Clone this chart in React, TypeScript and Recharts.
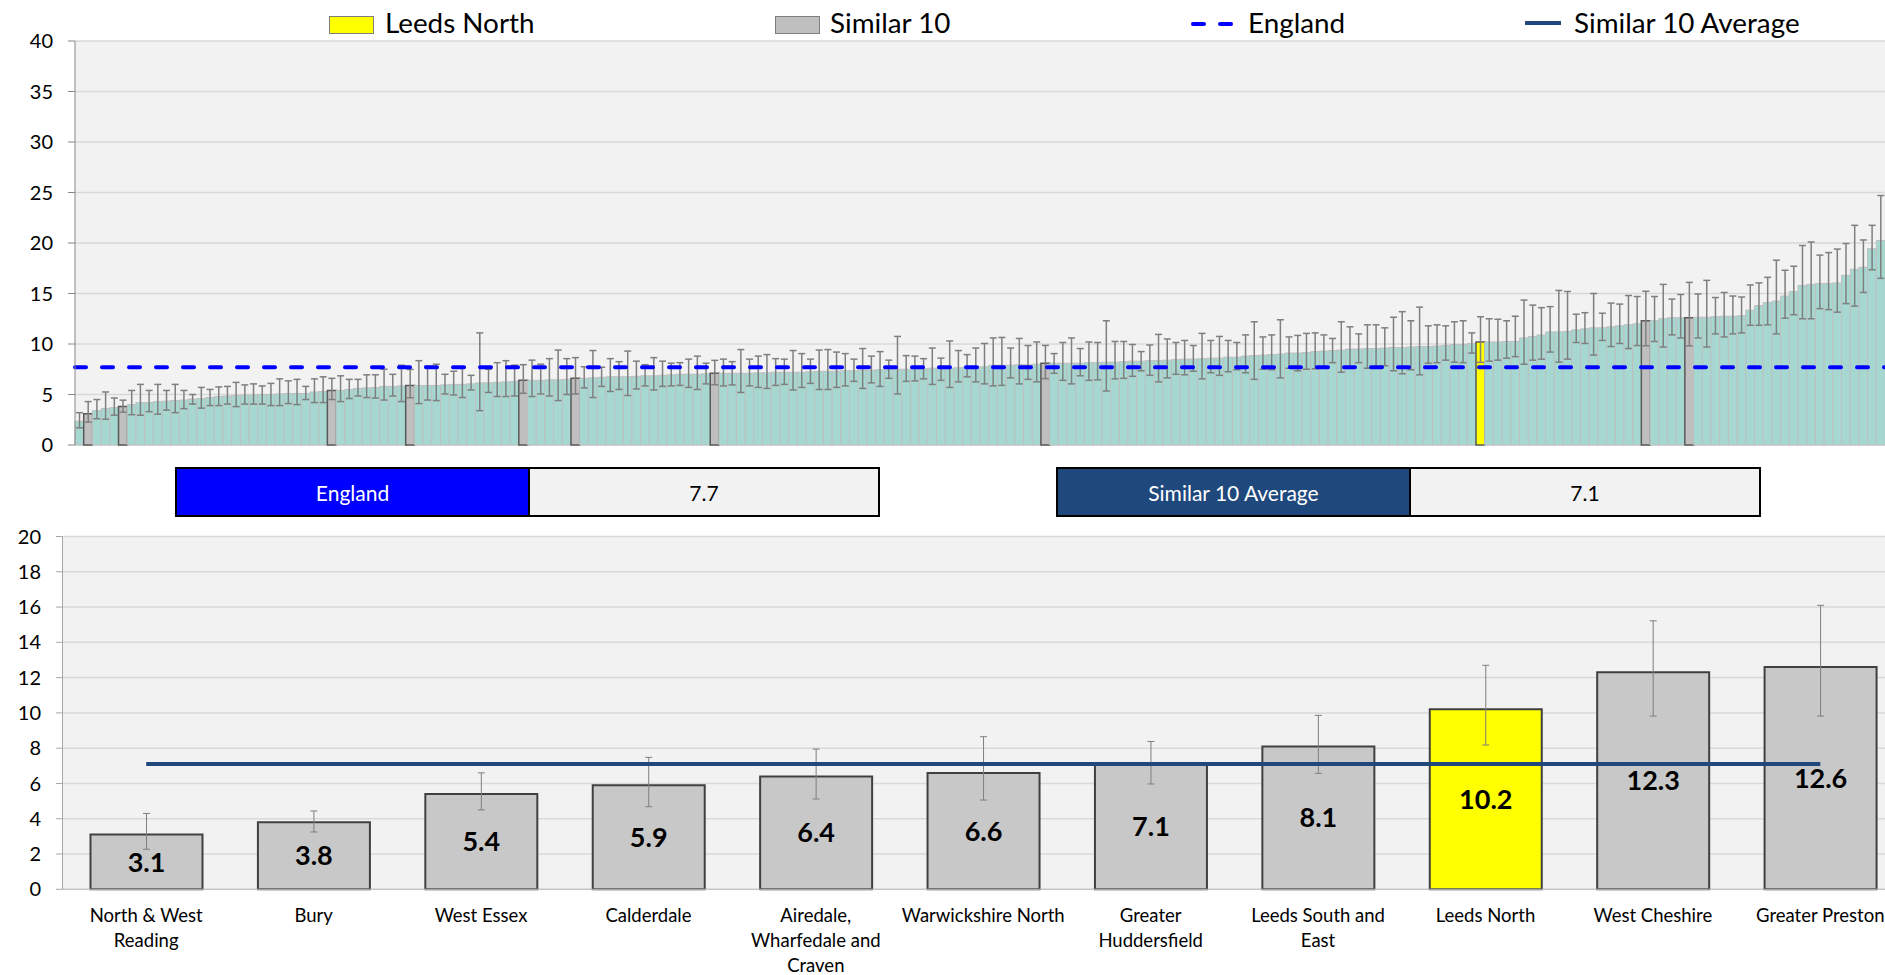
import React from "react";
import { Bar, BarChart, CartesianGrid, Cell, ComposedChart, ErrorBar, LabelList, Line, ReferenceLine, XAxis, YAxis } from "recharts";

// all CCGs, sorted by rate (top chart)
const ccgValues = [
  2.35, 3.1, 3.4, 3.6, 3.7, 3.8, 4.0, 4.2, 4.2, 4.3,
  4.35, 4.4, 4.45, 4.55, 4.6, 4.7, 4.8, 4.85, 4.9, 4.95,
  4.95, 5.0, 5.0, 5.05, 5.1, 5.1, 5.1, 5.25, 5.3, 5.4,
  5.4, 5.5, 5.6, 5.65, 5.7, 5.8, 5.8, 5.85, 5.9, 5.9,
  5.9, 5.9, 5.95, 6.0, 6.0, 6.05, 6.15, 6.15, 6.2, 6.25,
  6.3, 6.4, 6.4, 6.4, 6.45, 6.45, 6.5, 6.6, 6.6, 6.65,
  6.7, 6.75, 6.75, 6.75, 6.8, 6.85, 6.85, 6.9, 6.95, 7.0,
  7.0, 7.0, 7.05, 7.1, 7.1, 7.1, 7.1, 7.1, 7.15, 7.15,
  7.2, 7.2, 7.2, 7.2, 7.25, 7.3, 7.3, 7.3, 7.35, 7.35,
  7.4, 7.4, 7.45, 7.45, 7.5, 7.5, 7.5, 7.55, 7.6, 7.6,
  7.6, 7.65, 7.7, 7.7, 7.75, 7.9, 7.9, 7.9, 7.95, 7.95,
  8.0, 8.1, 8.1, 8.1, 8.1, 8.1, 8.15, 8.15, 8.2, 8.2,
  8.25, 8.3, 8.3, 8.35, 8.35, 8.4, 8.45, 8.5, 8.5, 8.55,
  8.6, 8.6, 8.7, 8.7, 8.8, 8.85, 8.9, 8.95, 9.0, 9.1,
  9.1, 9.15, 9.25, 9.3, 9.35, 9.4, 9.5, 9.5, 9.55, 9.55,
  9.6, 9.65, 9.65, 9.7, 9.75, 9.75, 9.8, 9.85, 9.95, 9.95,
  10.05, 10.2, 10.2, 10.2, 10.25, 10.25, 10.6, 10.75, 10.9, 11.2,
  11.2, 11.25, 11.4, 11.5, 11.6, 11.6, 11.7, 11.8, 11.9, 12.0,
  12.3, 12.3, 12.5, 12.6, 12.6, 12.6, 12.65, 12.65, 12.7, 12.75,
  12.75, 12.8, 13.35, 13.8, 14.1, 14.25, 14.75, 15.2, 15.8, 15.9,
  16.0, 16.0, 16.05, 16.8, 17.4, 17.6, 19.45, 20.25,
];
const ccgUpper = [
  3.2, 4.3, 4.5, 5.25, 4.65, 4.44, 5.4, 6.0, 5.4, 6.0,
  5.4, 6.0, 5.4, 5.0, 5.7, 5.5, 5.75, 5.8, 6.2, 5.95,
  6.05, 5.85, 6.1, 6.55, 6.35, 6.5, 5.8, 6.55, 6.75, 6.6,
  6.85, 6.5, 6.5, 6.95, 6.95, 7.5, 7.0, 7.9, 7.48, 8.35,
  7.8, 8.0, 7.0, 7.3, 7.75, 6.9, 11.1, 7.5, 8.15, 8.35,
  7.9, 7.95, 8.4, 8.0, 8.55, 9.4, 8.55, 8.65, 7.75, 9.35,
  7.7, 8.55, 8.25, 9.3, 8.3, 7.95, 8.65, 8.3, 8.1, 8.15,
  8.5, 8.8, 8.1, 8.38, 8.5, 8.25, 9.45, 8.5, 8.8, 8.95,
  8.55, 8.5, 9.35, 9.05, 8.5, 9.4, 9.45, 9.2, 9.05, 8.5,
  9.55, 8.8, 9.25, 8.4, 10.75, 8.85, 8.8, 8.55, 9.6, 8.6,
  10.3, 9.35, 8.95, 9.6, 10.05, 10.6, 10.65, 9.6, 10.55, 9.85,
  10.2, 9.86, 9.05, 10.15, 10.6, 9.55, 10.2, 10.15, 12.3, 10.25,
  10.25, 9.95, 9.25, 9.9, 10.95, 10.5, 10.15, 10.35, 9.85, 11.05,
  10.35, 10.75, 10.35, 10.15, 10.9, 12.2, 10.7, 10.9, 12.4, 10.7,
  10.85, 11.05, 11.1, 10.9, 10.55, 12.2, 11.7, 11.0, 11.9, 11.9,
  11.6, 12.65, 13.2, 12.3, 13.65, 11.8, 11.9, 11.8, 12.2, 12.3,
  11.1, 12.7, 12.5, 12.45, 12.3, 12.75, 14.35, 13.85, 13.6, 13.7,
  15.3, 15.2, 12.95, 13.1, 15.0, 13.05, 14.05, 13.95, 14.8, 14.7,
  15.22, 14.7, 15.9, 14.45, 14.9, 16.1, 14.95, 16.3, 14.6, 15.1,
  14.75, 14.65, 15.85, 16.05, 16.6, 18.3, 17.3, 17.7, 19.75, 20.1,
  18.8, 19.05, 19.4, 19.95, 21.75, 20.3, 21.75, 24.7,
];
const ccgLower = [
  1.7, 2.27, 2.6, 2.55, 2.95, 3.25, 3.0, 2.95, 3.3, 3.05,
  3.45, 3.2, 3.6, 4.05, 3.65, 3.9, 3.9, 4.05, 3.8, 4.05,
  4.05, 4.05, 3.9, 3.9, 4.1, 4.0, 4.5, 4.2, 4.2, 4.5,
  4.3, 4.6, 4.85, 4.7, 4.65, 4.45, 4.85, 4.3, 4.68, 4.1,
  4.45, 4.4, 5.05, 4.95, 4.7, 5.45, 3.4, 5.2, 4.8, 4.8,
  4.85, 5.12, 4.8, 5.05, 4.85, 4.4, 5.0, 5.06, 5.65, 4.7,
  5.8, 5.3, 5.5, 4.9, 5.55, 5.85, 5.45, 5.8, 5.85, 5.9,
  5.7, 5.5, 6.05, 5.97, 5.85, 5.95, 5.2, 5.85, 5.7, 5.6,
  5.9, 6.0, 5.45, 5.7, 6.1, 5.5, 5.5, 5.7, 5.85, 6.3,
  5.6, 6.15, 5.8, 6.6, 5.05, 6.3, 6.35, 6.55, 6.0, 6.4,
  5.7, 6.25, 6.75, 6.25, 6.05, 5.85, 5.9, 6.65, 6.05, 6.5,
  6.25, 6.57, 7.1, 6.4, 6.05, 6.85, 6.4, 6.45, 5.35, 6.55,
  6.6, 6.8, 7.35, 6.9, 6.25, 6.65, 7.0, 6.95, 7.3, 6.55,
  7.15, 6.9, 7.25, 7.45, 7.15, 6.5, 7.5, 7.45, 6.65, 7.6,
  7.35, 7.5, 7.55, 7.65, 8.15, 7.2, 7.6, 8.15, 7.6, 7.7,
  7.85, 7.35, 7.05, 7.45, 6.95, 8.1, 8.15, 8.4, 8.2, 8.15,
  9.1, 8.18, 8.3, 8.4, 8.6, 8.75, 8.0, 8.4, 8.5, 9.2,
  8.2, 8.5, 10.15, 10.05, 8.9, 10.35, 9.75, 10.05, 9.55, 9.85,
  9.82, 10.25, 9.7, 10.9, 10.6, 9.82, 10.6, 9.7, 11.0, 10.7,
  11.0, 11.1, 11.85, 11.85, 11.9, 11.0, 12.55, 12.9, 12.5, 12.5,
  13.5, 13.4, 13.15, 14.0, 13.75, 15.1, 17.35, 16.5,
];
const similarPositions = [1, 5, 29, 38, 51, 57, 73, 111, 180, 185];
const leedsPosition = 161;

// similar 10 + Leeds North (bottom chart); "\n" marks where the axis label wraps
const similarNames = [
  "North & West\nReading", "Bury", "West Essex", "Calderdale", "Airedale,\nWharfedale and\nCraven",
  "Warwickshire North", "Greater\nHuddersfield", "Leeds South and\nEast", "Leeds North", "West Cheshire", "Greater Preston",
];
const similarValues = [3.1, 3.8, 5.4, 5.9, 6.4, 6.6, 7.1, 8.1, 10.2, 12.3, 12.6];
const similarLower = [2.27, 3.25, 4.5, 4.68, 5.12, 5.06, 5.97, 6.57, 8.18, 9.82, 9.82];
const similarUpper = [4.3, 4.44, 6.6, 7.48, 7.95, 8.65, 8.38, 9.86, 12.7, 15.22, 16.1];

const highlightName = "Leeds North";
const englandValue = 7.7;
const similarAverage = 7.1;
const topTicks = [0, 5, 10, 15, 20, 25, 30, 35, 40];
const bottomTicks = [0, 2, 4, 6, 8, 10, 12, 14, 16, 18, 20];

const FONT = "Lato, 'Open Sans', sans-serif";
const TEAL = "#a6d8d1";
const GREY = "#bfbfbf";
const YELLOW = "#ffff00";
const BLUE = "#0000ff";
const NAVY = "#1f497d";

const topData = ccgValues.map((v, i) => ({ pos: i, value: v, err: [v - ccgLower[i], ccgUpper[i] - v] }));
const bottomData = similarNames.map((name, k) => ({
  name,
  value: similarValues[k],
  err: [similarValues[k] - similarLower[k], similarUpper[k] - similarValues[k]],
  avg: similarAverage,
}));
const separatorTicks = similarNames.map((_, k) => k);

const CategoryTick = (props: any) => {
  const { x, y, payload } = props;
  const lines = String(payload.value).split("\n");
  return (
    <text x={x} y={y} textAnchor="middle" fontSize={18.5} fontFamily={FONT} fill="#000">
      {lines.map((line, i) => (
        <tspan key={i} x={x} dy={i === 0 ? 33 : 25}>
          {line}
        </tspan>
      ))}
    </text>
  );
};

const legendText: React.CSSProperties = { position: "absolute", top: 5, fontSize: 27.8, lineHeight: "36px", color: "#000", whiteSpace: "nowrap" };

const Legend = () => (
  <>
    <div style={{ position: "absolute", left: 329, top: 16, width: 43, height: 16, background: YELLOW, border: "1px solid #7f7f7f" }} />
    <div style={{ ...legendText, left: 385 }}>Leeds North</div>
    <div style={{ position: "absolute", left: 775, top: 16, width: 43, height: 16, background: GREY, border: "1px solid #7f7f7f" }} />
    <div style={{ ...legendText, left: 830 }}>Similar 10</div>
    <div style={{ position: "absolute", left: 1191, top: 22, width: 15, height: 4, borderRadius: 2, background: BLUE }} />
    <div style={{ position: "absolute", left: 1218, top: 22, width: 15, height: 4, borderRadius: 2, background: BLUE }} />
    <div style={{ ...legendText, left: 1248 }}>England</div>
    <div style={{ position: "absolute", left: 1525, top: 21, width: 36, height: 4, background: NAVY }} />
    <div style={{ ...legendText, left: 1574 }}>Similar 10 Average</div>
  </>
);

const InfoBox = ({ left, label, value, colour }: { left: number; label: string; value: number; colour: string }) => (
  <div style={{ position: "absolute", left, top: 467, width: 701, height: 46, border: "2px solid #000", display: "flex", fontSize: 21 }}>
    <div style={{ width: 351, background: colour, color: "#fff", borderRight: "2px solid #000", display: "flex", alignItems: "center", justifyContent: "center" }}>{label}</div>
    <div style={{ flex: 1, background: "#f2f2f2", color: "#000", display: "flex", alignItems: "center", justifyContent: "center" }}>{value.toFixed(1)}</div>
  </div>
);

export default function App() {
  return (
    <div style={{ position: "absolute", left: 0, top: 0, width: 1885, height: 975, overflow: "hidden", background: "#fff", fontFamily: FONT }}>
      <Legend />
      <div style={{ position: "absolute", left: 0, top: 0 }}>
        <BarChart width={1885} height={460} data={topData} margin={{ top: 41, right: 0, bottom: 15, left: 0 }} barCategoryGap={0} barGap={0}>
          <CartesianGrid vertical={false} fill="#f2f2f2" stroke="#d9d9d9" strokeWidth={1.5} />
          <XAxis dataKey="pos" hide />
          <YAxis
            width={75}
            domain={[0, 40]}
            ticks={topTicks}
            interval={0}
            tickSize={7}
            tickMargin={15}
            stroke="#868686"
            tick={{ fill: "#000", fontSize: 20, fontFamily: FONT }}
          />
          <Bar dataKey="value" fill={TEAL} stroke={GREY} strokeWidth={1} isAnimationActive={false}>
            {topData.map((d) => {
              const isLeeds = d.pos === leedsPosition;
              const isSimilar = similarPositions.includes(d.pos);
              return (
                <Cell
                  key={d.pos}
                  fill={isLeeds ? YELLOW : isSimilar ? GREY : TEAL}
                  stroke={isLeeds || isSimilar ? "#595959" : GREY}
                  strokeWidth={isLeeds || isSimilar ? 1.5 : 1}
                />
              );
            })}
            <ErrorBar dataKey="err" width={3.5} stroke="#7f7f7f" strokeWidth={1.5} />
          </Bar>
          <ReferenceLine y={englandValue} stroke={BLUE} strokeWidth={4} strokeDasharray="11 16" strokeLinecap="round" />
        </BarChart>
      </div>

      <InfoBox left={175} label="England" value={englandValue} colour={BLUE} />
      <InfoBox left={1056} label="Similar 10 Average" value={similarAverage} colour={NAVY} />

      <div style={{ position: "absolute", left: 0, top: 460 }}>
        <ComposedChart width={1904} height={515} data={bottomData} margin={{ top: 76.5, right: 0, bottom: 0, left: 0 }}>
          <CartesianGrid vertical={false} fill="#f2f2f2" stroke="#d9d9d9" strokeWidth={1.5} />
          <XAxis
            xAxisId="sep"
            type="number"
            domain={[0, similarNames.length]}
            ticks={separatorTicks}
            allowDataOverflow
            height={0}
            tick={false}
            axisLine={false}
            tickSize={6}
            tickLine={{ stroke: "#a6a6a6" }}
          />
          <XAxis
            xAxisId="cat"
            dataKey="name"
            interval={0}
            height={85.7}
            tickLine={false}
            tickSize={0}
            tickMargin={0}
            stroke="#bfbfbf"
            tick={<CategoryTick />}
          />
          <YAxis
            width={62.5}
            domain={[0, 20]}
            ticks={bottomTicks}
            interval={0}
            tickSize={6.5}
            tickMargin={15}
            stroke="#a6a6a6"
            tick={{ fill: "#000", fontSize: 20, fontFamily: FONT }}
          />
          <Bar xAxisId="cat" dataKey="value" barSize={112} fill="#c8c8c8" stroke="#404040" strokeWidth={2} isAnimationActive={false}>
            {bottomData.map((d) => (
              <Cell key={d.name} fill={d.name === highlightName ? YELLOW : "#c8c8c8"} />
            ))}
            <ErrorBar dataKey="err" width={3.5} stroke="#7f7f7f" strokeWidth={1} />
            <LabelList dataKey="value" position="center" formatter={(v: any) => Number(v).toFixed(1)} style={{ fontSize: 27, fontWeight: 700, fontFamily: FONT, fill: "#000" }} />
          </Bar>
          <Line xAxisId="cat" dataKey="avg" stroke={NAVY} strokeWidth={4} dot={false} activeDot={false} isAnimationActive={false} />
        </ComposedChart>
      </div>
    </div>
  );
}
